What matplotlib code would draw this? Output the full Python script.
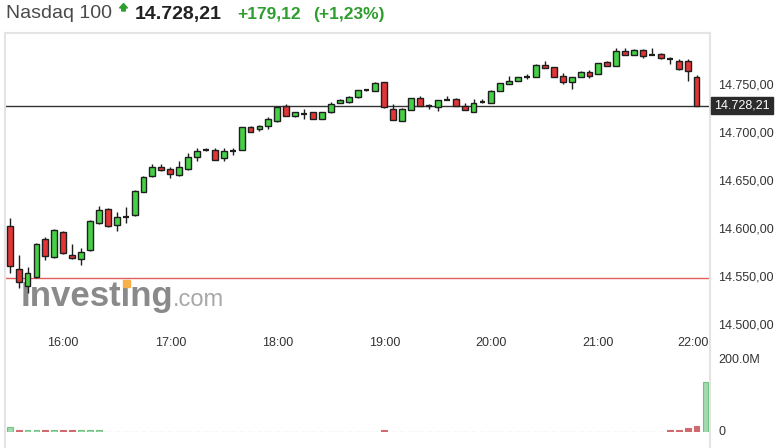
import matplotlib
matplotlib.use('Agg')
import matplotlib.pyplot as plt
from matplotlib.patches import Rectangle, Polygon
from matplotlib.lines import Line2D
from matplotlib.transforms import ScaledTranslation

plt.rcParams['font.family'] = ['Liberation Sans', 'DejaVu Sans']

W, H, DPI = 782, 448, 100

# ---------------- data ----------------
title_name = "Nasdaq 100"
last_price = 14728.21
change_abs = "+179,12"
change_pct = "(+1,23%)"
prev_close = 14549.09

opens = [14603.4, 14558.3, 14541.0, 14550.6, 14589.5, 14571.5, 14596.8, 14573.2, 14569.1, 14578.4,
         14606.2, 14621.4, 14604.4, 14613.1, 14614.8, 14639.0, 14655.4, 14664.4, 14662.7, 14656.4,
         14662.7, 14675.5, 14682.6, 14682.4, 14674.5, 14681.6, 14682.4, 14706.0, 14704.2, 14707.4,
         14712.9, 14728.2, 14717.8, 14720.3, 14721.6, 14714.7, 14721.6, 14731.6, 14732.6, 14737.2,
         14744.8, 14743.8, 14752.9, 14725.1, 14712.6, 14724.0, 14736.8, 14728.2, 14727.5, 14734.4,
         14735.5, 14728.6, 14722.3, 14732.0, 14731.6, 14743.8, 14751.0, 14754.1, 14758.3, 14758.6,
         14770.9, 14768.5, 14759.4, 14753.4, 14758.6, 14763.3, 14761.5, 14773.6, 14769.9, 14785.5,
         14781.3, 14786.5, 14781.3, 14782.3, 14777.1, 14775.0, 14775.0, 14758.0]
closes = [14561.8, 14544.9, 14554.2, 14584.6, 14572.2, 14599.2, 14575.0, 14570.5, 14576.0, 14608.6,
          14620.0, 14603.4, 14613.0, 14613.1, 14639.4, 14654.0, 14664.4, 14661.7, 14657.5, 14664.4,
          14674.9, 14681.7, 14682.6, 14672.0, 14681.7, 14681.6, 14706.0, 14701.5, 14707.4, 14714.4,
          14726.9, 14717.8, 14721.6, 14720.3, 14714.7, 14721.6, 14730.0, 14734.4, 14737.2, 14744.8,
          14744.8, 14751.8, 14726.9, 14713.7, 14725.1, 14736.8, 14728.2, 14728.2, 14734.4, 14734.4,
          14728.6, 14724.0, 14731.6, 14732.0, 14743.8, 14751.8, 14754.1, 14758.0, 14758.3, 14770.9,
          14768.1, 14758.6, 14753.4, 14758.0, 14763.3, 14759.7, 14772.7, 14769.9, 14785.5, 14781.3,
          14786.5, 14780.5, 14781.3, 14777.8, 14777.1, 14766.4, 14764.6, 14728.21]
highs = [14612.0, 14573.2, 14560.4, 14585.5, 14591.6, 14600.5, 14598.0, 14584.6, 14580.2, 14609.5,
         14624.2, 14622.2, 14618.3, 14622.9, 14640.4, 14655.0, 14667.5, 14667.5, 14664.4, 14671.3,
         14679.6, 14684.2, 14684.8, 14684.8, 14684.2, 14684.2, 14706.5, 14707.7, 14708.4, 14716.5,
         14727.5, 14730.3, 14722.0, 14724.8, 14722.0, 14722.0, 14732.0, 14735.0, 14738.9, 14745.3,
         14745.8, 14753.1, 14753.2, 14730.0, 14725.6, 14737.0, 14738.9, 14730.3, 14734.9, 14738.9,
         14736.8, 14731.1, 14735.5, 14735.5, 14744.3, 14752.1, 14759.4, 14758.3, 14761.2, 14771.4,
         14775.3, 14768.8, 14762.8, 14758.3, 14765.0, 14765.7, 14773.0, 14775.0, 14788.3, 14788.9,
         14787.0, 14787.0, 14788.9, 14782.8, 14778.9, 14777.1, 14776.7, 14760.4]
lows = [14554.6, 14538.9, 14534.0, 14549.6, 14568.0, 14570.0, 14574.0, 14569.1, 14562.8, 14577.5,
        14605.2, 14602.4, 14598.1, 14606.8, 14613.8, 14638.5, 14654.0, 14661.0, 14653.3, 14655.4,
        14661.7, 14671.3, 14681.6, 14671.5, 14671.3, 14677.3, 14682.0, 14701.3, 14702.1, 14703.9,
        14711.9, 14717.5, 14716.4, 14714.4, 14714.2, 14714.2, 14721.4, 14731.3, 14731.0, 14737.0,
        14743.8, 14743.5, 14726.6, 14713.2, 14712.1, 14723.5, 14728.0, 14725.1, 14723.3, 14734.0,
        14728.4, 14723.7, 14722.0, 14731.7, 14731.3, 14743.5, 14750.7, 14753.8, 14755.9, 14758.3,
        14767.8, 14758.3, 14750.8, 14745.8, 14758.3, 14757.0, 14761.2, 14769.6, 14769.6, 14781.0,
        14781.0, 14778.4, 14781.0, 14777.5, 14771.5, 14766.1, 14754.4, 14728.0]

# volume in millions (one bar per 5-min slot, 15:30 .. 22:00)
volumes = [12, 5.5, 5.5, 5.5, 5.5, 5.5, 5.5, 5.5, 5.5, 5.5, 5.5,
           0, 0, 0, 0, 0, 0, 0, 0, 0, 0, 0, 0, 0, 0, 0, 0, 0, 0, 0, 0,
           0, 0, 0, 0, 0, 0, 0, 0, 0, 0, 0,
           5.5,
           0, 0, 0, 0, 0, 0, 0, 0, 0, 0, 0, 0, 0, 0, 0, 0, 0, 0, 0, 0,
           0, 0, 0, 0, 0, 0, 0, 0, 0, 0, 0,
           5.5, 5.5, 10, 16, 137]
volume_up = [1, 0, 1, 1, 0, 1, 0, 0, 1, 1, 1,
             0, 0, 0, 0, 0, 0, 0, 0, 0, 0, 0, 0, 0, 0, 0, 0, 0, 0, 0, 0,
             0, 0, 0, 0, 0, 0, 0, 0, 0, 0, 0,
             0,
             0, 0, 0, 0, 0, 0, 0, 0, 0, 0, 0, 0, 0, 0, 0, 0, 0, 0, 0, 0,
             0, 0, 0, 0, 0, 0, 0, 0, 0, 0, 0,
             0, 0, 0, 0, 1]

x_tick_pos = [6, 18, 30, 42, 54, 66, 78]
x_tick_labels = ["16:00", "17:00", "18:00", "19:00", "20:00", "21:00", "22:00"]
price_ticks = [14500, 14550, 14600, 14650, 14700, 14750]
vol_ticks = [0, 200]
vol_tick_labels = ["0", "200.0M"]


def eu(v):
    s = f"{v:,.2f}"
    return s.replace(",", "X").replace(".", ",").replace("X", ".")


# ---------------- figure ----------------
fig = plt.figure(figsize=(W / DPI, H / DPI), dpi=DPI)
fig.patch.set_facecolor('white')


def fx(px):
    return px / W


def fy(py):
    return 1 - py / H


GREEN = '#45d145'
RED = '#e23636'
EDGE = '#1e1e1e'

ax = fig.add_axes([fx(5), fy(335), fx(710) - fx(5), fy(33) - fy(335)])
ax.set_xlim(-0.527, 78.51)
ax.set_ylim(14490, 14804.1)
for s in ax.spines.values():
    s.set_visible(False)
ax.patch.set_alpha(0)

bw = 0.66
for i, (o, h, l, c) in enumerate(zip(opens, highs, lows, closes)):
    ax.vlines(i, l, h, color=EDGE, lw=1.0, zorder=3)
    if abs(c - o) < 0.05:
        ax.hlines(o, i - bw / 2, i + bw / 2, color=EDGE, lw=1.6, zorder=4)
    else:
        col = GREEN if c > o else RED
        ax.bar(i, abs(c - o), bottom=min(o, c), width=bw, color=col,
               edgecolor=EDGE, linewidth=1.0, zorder=4)

ax.axhline(prev_close, color='#e06060', lw=1.0, zorder=1)
ax.axhline(last_price, color='#333333', lw=1.0, zorder=1)

# watermark
ax.text(fx(21), fy(306), "Investing", transform=fig.transFigure, fontsize=25,
        fontweight='bold', color='#8a8a8a', va='baseline', ha='left', zorder=0.5)
ax.text(fx(173), fy(306), ".com", transform=fig.transFigure, fontsize=17,
        color='#a8a8a8', va='baseline', ha='left', zorder=0.5)
ax.add_patch(Rectangle((fx(122.5), fy(287)), fx(7), fy(280) - fy(287),
                       transform=fig.transFigure, color='#f7b04a', zorder=0.6))

ax.yaxis.tick_right()
ax.set_yticks(price_ticks)
ax.set_yticklabels([eu(v) for v in price_ticks])
ax.tick_params(axis='y', length=0, pad=5.8, labelsize=9, labelcolor='#333333')
ax.set_xticks(x_tick_pos)
ax.set_xticklabels(x_tick_labels)
ax.tick_params(axis='x', length=0, pad=1.8, labelsize=9, labelcolor='#333333')
up = ScaledTranslation(0, 1.5 / DPI, fig.dpi_scale_trans)
for lab in ax.get_yticklabels():
    lab.set_transform(lab.get_transform() + up)
xl = ax.get_xticklabels()
xl[-1].set_ha('right')
xl[-1].set_transform(xl[-1].get_transform() + ScaledTranslation(3 / DPI, 0, fig.dpi_scale_trans))

# last price box
fig.add_artist(Rectangle((fx(710.5), fy(114)), fx(772.5) - fx(710.5), fy(97) - fy(114),
                         transform=fig.transFigure, color='#2b2b2b', zorder=5))
fig.text(fx(714.5), fy(105.5), eu(last_price), fontsize=9, color='white',
         va='center', ha='left', zorder=6)

# volume axes
axv = fig.add_axes([fx(5), fy(431.5), fx(710) - fx(5), fy(352) - fy(431.5)], sharex=ax)
axv.set_ylim(0, 221.8)
for s in axv.spines.values():
    s.set_visible(False)
axv.patch.set_alpha(0)
vcols = ['#a3d9ae' if u else '#cf6a6e' for u in volume_up]
vedges = ['#72c283' if u else '#cf6a6e' for u in volume_up]
axv.bar(range(len(volumes)), volumes, width=0.66, color=vcols, edgecolor=vedges, linewidth=0.8)
axv.yaxis.tick_right()
axv.set_yticks(vol_ticks)
axv.set_yticklabels(vol_tick_labels)
axv.tick_params(axis='y', length=0, pad=5.8, labelsize=9, labelcolor='#333333')
axv.tick_params(axis='x', length=0, labelbottom=False)
for lab in axv.get_yticklabels():
    lab.set_transform(lab.get_transform() + up)

# frame lines
for xs, ys in [((5, 5), (33, 448)), ((710, 710), (33, 448)), ((5, 710), (33, 33))]:
    fig.add_artist(Line2D([fx(xs[0]), fx(xs[1])], [fy(ys[0]), fy(ys[1])],
                          transform=fig.transFigure, color='#e4e4e4', lw=1.5))

# header
fig.text(fx(6), fy(18.5), title_name, fontsize=14, color='#4a4a4a', va='baseline', ha='left')
fig.add_artist(Polygon([(fx(119.5), fy(8)), (fx(123.5), fy(3.5)), (fx(127.5), fy(8)),
                        (fx(125.3), fy(8)), (fx(125.3), fy(11)), (fx(121.7), fy(11)),
                        (fx(121.7), fy(8))],
                       closed=True, transform=fig.transFigure, color='#2e9e2e'))
fig.text(fx(135), fy(18.5), eu(last_price), fontsize=14, fontweight='bold',
         color='#222222', va='baseline', ha='left')
fig.text(fx(237), fy(18.5), change_abs, fontsize=12.5, fontweight='bold',
         color='#2e9e2e', va='baseline', ha='left')
fig.text(fx(313), fy(18.5), change_pct, fontsize=12.5, fontweight='bold',
         color='#2e9e2e', va='baseline', ha='left')

fig.savefig('out.png', dpi=DPI)
